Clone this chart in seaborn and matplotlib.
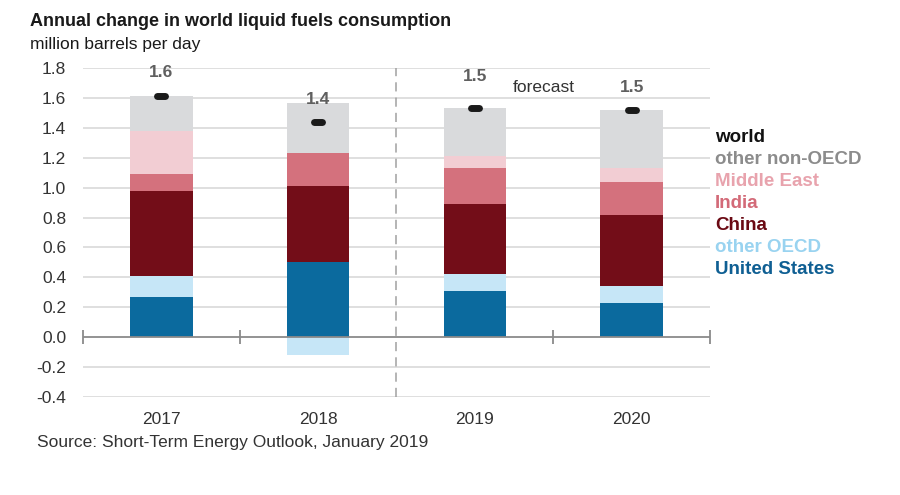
import numpy as np
import pandas as pd
import matplotlib
matplotlib.use("Agg")
import matplotlib.pyplot as plt
from matplotlib.markers import MarkerStyle
import seaborn as sns

sns.set_style("white")
plt.rcParams['font.family'] = ['Liberation Sans', 'DejaVu Sans']

years = ["2017", "2018", "2019", "2020"]
united_states = [0.27, 0.50, 0.31, 0.23]
other_oecd = [0.14, -0.12, 0.11, 0.11]
china = [0.57, 0.51, 0.47, 0.48]
india = [0.11, 0.225, 0.24, 0.22]
middle_east = [0.29, 0.0, 0.08, 0.09]
other_non_oecd = [0.23, 0.33, 0.32, 0.39]
world = [1.61, 1.44, 1.535, 1.52]
world_labels = ["1.6", "1.4", "1.5", "1.5"]
label_y = [1.77, 1.59, 1.74, 1.67]

series_names = ["United States", "other OECD", "China", "India", "Middle East", "other non-OECD"]
series_values = [united_states, other_oecd, china, india, middle_east, other_non_oecd]
bar_colors = ["#0b6a9e", "#c6e6f7", "#730d18", "#d4717d", "#f2cdd3", "#d9dadc"]
legend_colors = ["#0f5f93", "#99d3f0", "#6b0a14", "#d36a78", "#e8a3ad", "#8c8c8c"]

fig = plt.figure(figsize=(9.0, 4.95), dpi=100)
ax = fig.add_axes([0.0922, 0.198, 0.6967, 0.6646])

pos_base = np.zeros(len(years))
neg_base = np.zeros(len(years))
for name, vals, col in zip(series_names, series_values, bar_colors):
    v = np.array(vals, dtype=float)
    bottom = np.where(v >= 0, pos_base, neg_base)
    df = pd.DataFrame({"year": years, "value": v})
    sns.barplot(data=df, x="year", y="value", ax=ax, color=col, width=0.4,
                bottom=bottom, saturation=1, linewidth=0, zorder=3, errorbar=None)
    pos_base = pos_base + np.where(v >= 0, v, 0)
    neg_base = neg_base + np.where(v < 0, v, 0)

# world markers (rounded dashes)
ms = MarkerStyle("_", capstyle="round")
ax.plot(np.arange(len(years)), world, linestyle="none", marker=ms, markersize=5.5,
        markeredgewidth=5, color="#1a1a1a", zorder=5)

for i, (lab, ly) in enumerate(zip(world_labels, label_y)):
    ax.text(i, ly, lab, ha="center", va="center", fontsize=12.5, fontweight="bold",
            color="#5f5f5f", zorder=6)

ax.set_xlim(-0.5, len(years) - 0.5)
ax.set_ylim(-0.4, 1.8)
yt = np.round(np.arange(-0.4, 1.81, 0.2), 1)
ax.set_yticks(yt)
ax.set_yticklabels([f"{t:.1f}" for t in yt])
for t in yt:
    if t != 0:
        ax.axhline(t, color="#d9d9d9", linewidth=1.2, zorder=0)
ax.axhline(0, color="#8a8a8a", linewidth=1.3, zorder=4)
bounds = [b for b in np.arange(-0.5, len(years), 1.0) if b != 1.5]
ax.plot(bounds, [0] * len(bounds), linestyle="none", marker="|", markersize=10,
        markeredgewidth=1.3, color="#8a8a8a", zorder=4, clip_on=False)
ax.axvline(1.5, color="#a0a0a0", linewidth=1.1, linestyle=(0, (6, 4)), zorder=1)

for s in ax.spines.values():
    s.set_visible(False)
ax.tick_params(axis="both", length=0, labelsize=12.5, colors="#333333")
ax.tick_params(axis="y", pad=12)
ax.tick_params(axis="x", pad=11)
ax.set_xlabel("")
ax.set_ylabel("")

ax.text(2.24, 1.667, "forecast", ha="left", va="center", fontsize=12.5, color="#333333")

fig.text(30 / 900, 1 - 22 / 495, "Annual change in world liquid fuels consumption",
         fontsize=13, fontweight="bold", color="#1a1a1a", ha="left", va="center")
fig.text(30 / 900, 1 - 45 / 495, "million barrels per day",
         fontsize=12.5, color="#1a1a1a", ha="left", va="center")
fig.text(37 / 900, 1 - 443 / 495, "Source: Short-Term Energy Outlook, January 2019",
         fontsize=12.5, color="#333333", ha="left", va="center")

# legend
leg_names = ["world"] + series_names[::-1]
leg_cols = ["#111111"] + legend_colors[::-1]
for k, (n, c) in enumerate(zip(leg_names, leg_cols)):
    fig.text(715 / 900, 1 - (137 + 22 * k) / 495, n, fontsize=13.5, fontweight="bold",
             color=c, ha="left", va="center")

fig.savefig("out.png", dpi=100)
